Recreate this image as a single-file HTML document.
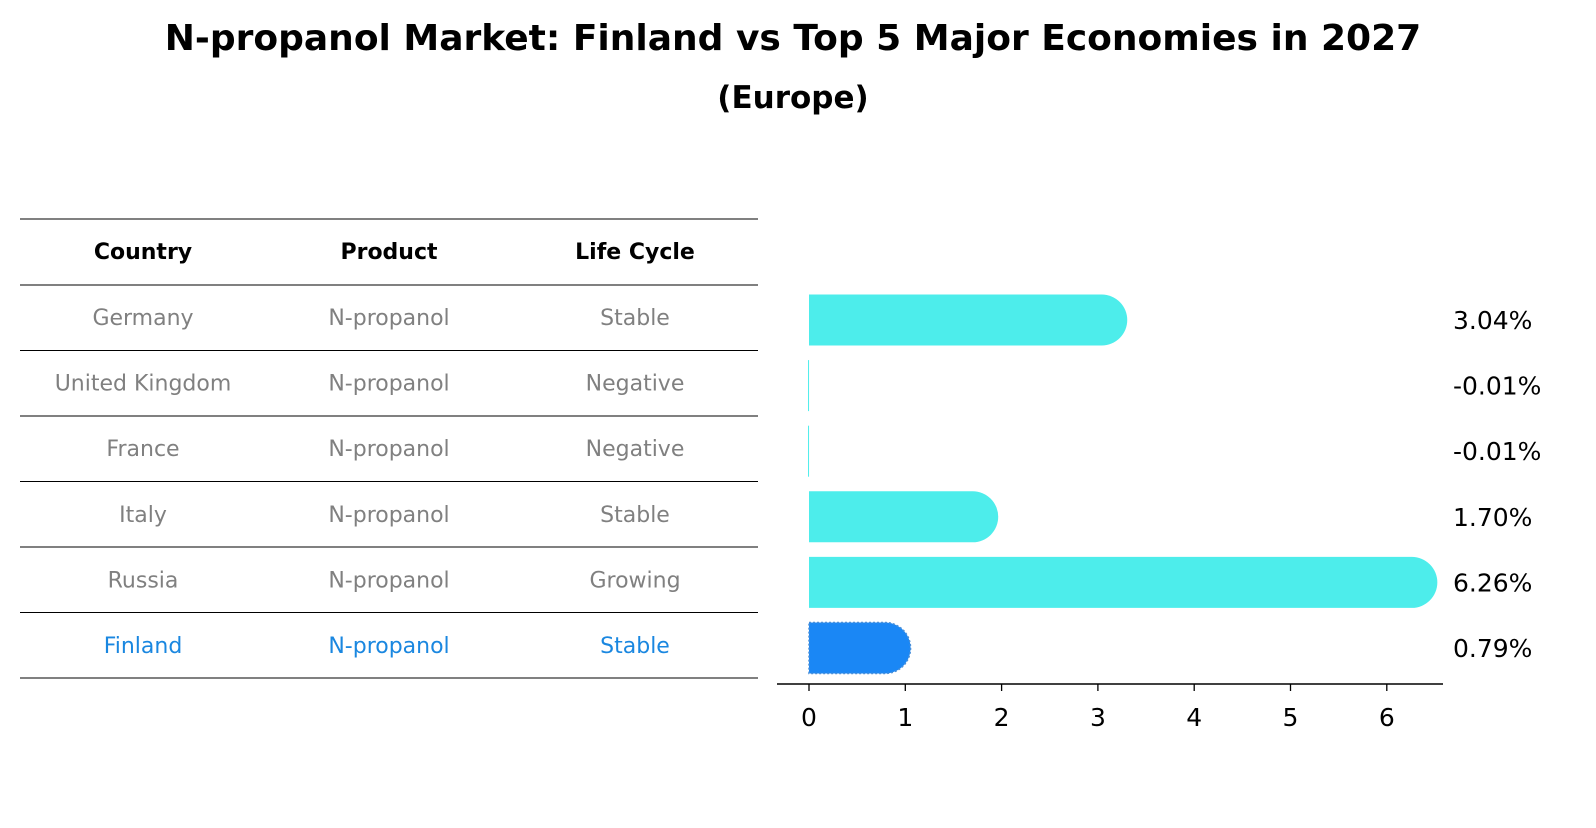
<!DOCTYPE html>
<html><head><meta charset="utf-8"><style>
body{margin:0;background:#fff;font-family:"Liberation Sans","DejaVu Sans",sans-serif;}
svg text{font-family:"DejaVu Sans","Liberation Sans",sans-serif;}
</style></head><body>
<svg width="1596" height="823" viewBox="0 0 1596 823" xmlns="http://www.w3.org/2000/svg">
<text x="793" y="50" text-anchor="middle" font-size="36" font-weight="bold">N-propanol Market: Finland vs Top 5 Major Economies in 2027</text>
<text x="793" y="108" text-anchor="middle" font-size="31" font-weight="bold">(Europe)</text>
<g id="table"></g>
<g id="bars"></g>
<g id="axis"></g>
</svg>
<script>
const countries=["Germany","United Kingdom","France","Italy","Russia","Finland"];
const products=["N-propanol","N-propanol","N-propanol","N-propanol","N-propanol","N-propanol"];
const lifecycle=["Stable","Negative","Negative","Stable","Growing","Stable"];
const values=[3.04,-0.01,-0.01,1.70,6.26,0.79];
const ticks=[0,1,2,3,4,5,6];
const NS="http://www.w3.org/2000/svg";
function mk(t,a,p){const e=document.createElementNS(NS,t);for(const k in a)e.setAttribute(k,a[k]);p.appendChild(e);return e;}
const x=v=>809+v*96.3;
const rowY=i=>318+i*65.6;
const tbl=document.getElementById('table');
const cols=[143,389,635];
const heads=["Country","Product","Life Cycle"];
heads.forEach((h,j)=>{const t=mk('text',{x:cols[j],y:259,'text-anchor':'middle','font-size':22,'font-weight':'bold'},tbl);t.textContent=h;

});
for(let k=0;k<=7;k++){const y=k==0?219:285+(k-1)*65.5;const l=mk('line',{x1:20,x2:758,y1:y,y2:y,stroke:'#000','stroke-width':1},tbl);

}
countries.forEach((c,i)=>{const col=i==countries.length-1?'#1a87e0':'#808080';
[c,products[i],lifecycle[i]].forEach((s,j)=>{const t=mk('text',{x:cols[j],y:rowY(i)+7,'text-anchor':'middle','font-size':22,fill:col},tbl);t.textContent=s;

});});
const bars=document.getElementById('bars');
const h=51,r=25.5;
values.forEach((v,i)=>{const cy=rowY(i)+2;const fin=i==values.length-1;const fill=fin?'#1a87f5':'#4dedeb';
let el;
if(v<=0){el=mk('rect',{x:x(v),y:cy-h/2,width:Math.max(1,x(0)-x(v)),height:h,fill:fill},bars);}
else{const x0=x(0),x1=x(v);
el=mk('path',{d:`M${x0},${cy-h/2}H${x1}A${r},${r} 0 0 1 ${x1},${cy+h/2}H${x0}Z`,fill:fill},bars);
if(fin){el.setAttribute('stroke','#4a8fd8');el.setAttribute('stroke-dasharray','2,2');el.setAttribute('stroke-width','1.5');}}


const t=mk('text',{x:1453,y:cy+9,'font-size':25},bars);t.textContent=v.toFixed(2)+'%';

});
const ax=document.getElementById('axis');
mk('line',{x1:777,x2:1443,y1:684,y2:684,stroke:'#000','stroke-width':1.5},ax);
ticks.forEach(v=>{mk('line',{x1:x(v),x2:x(v),y1:684,y2:691,stroke:'#000','stroke-width':1.3},ax);
const t=mk('text',{x:x(v),y:726,'text-anchor':'middle','font-size':25},ax);t.textContent=v;

});
</script>
</body></html>
